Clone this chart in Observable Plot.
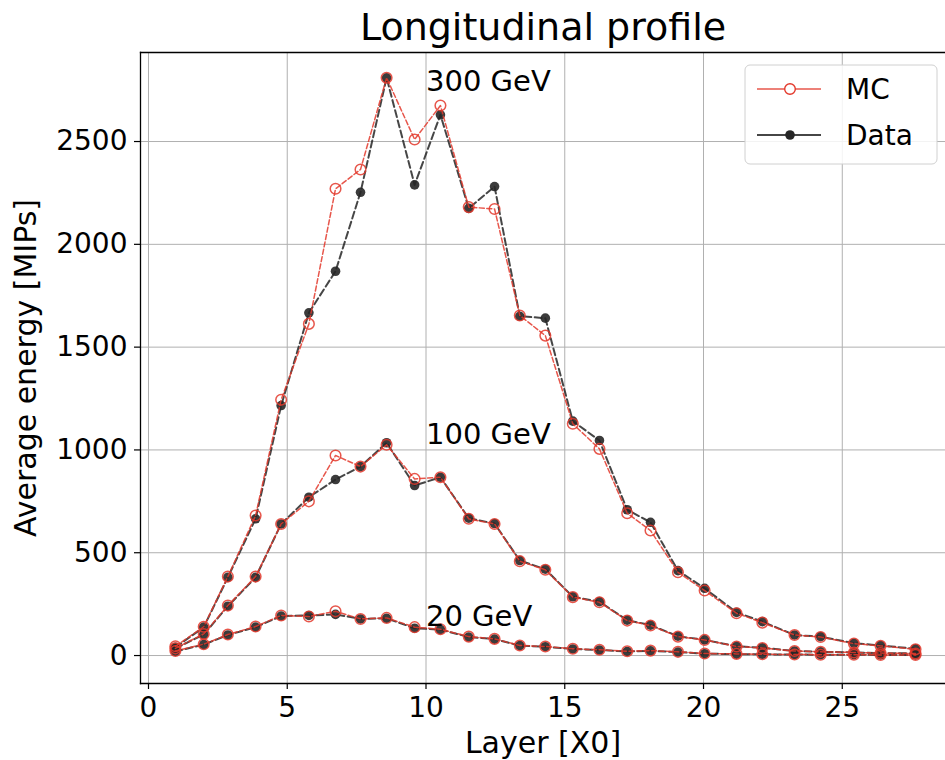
<!DOCTYPE html>
<html><head><meta charset="utf-8">
<script src="https://cdn.jsdelivr.net/npm/d3@7"></script>
<script src="https://cdn.jsdelivr.net/npm/@observablehq/plot@0.6"></script>
<style>body{margin:0;background:#fff} svg{overflow:visible}</style>
</head><body><div id="chart"></div>
<script>
// Layer depth [X0]
const layers = [0.97, 1.99, 2.86, 3.86, 4.78, 5.78, 6.74, 7.64, 8.58, 9.59, 10.52, 11.54, 12.47, 13.38, 14.30, 15.29, 16.25, 17.25, 18.09, 19.08, 20.04, 21.19, 22.12, 23.28, 24.22, 25.42, 26.38, 27.64];
// Average energy [MIPs]
const mc300   = [45, 140, 384, 681, 1244, 1613, 2270, 2364, 2810, 2510, 2675, 2181, 2172, 1654, 1556, 1127, 1005, 692, 608, 405, 316, 206, 160, 100, 90, 58, 47, 30];
const data300 = [40, 138, 380, 665, 1216, 1667, 1869, 2253, 2810, 2289, 2630, 2175, 2281, 1650, 1641, 1140, 1046, 709, 648, 413, 327, 210, 165, 100, 92, 60, 49, 33];
const mc100   = [35, 105, 243, 384, 640, 750, 973, 919, 1025, 859, 867, 665, 640, 459, 417, 284, 259, 170, 146, 92, 76, 44, 37, 22, 18, 15, 12, 10];
const data100 = [35, 102, 240, 380, 640, 770, 856, 919, 1035, 827, 867, 668, 642, 462, 420, 286, 262, 172, 148, 94, 76, 45, 38, 22, 18, 15, 12, 10];
const mc20    = [22, 55, 102, 141, 195, 190, 215, 178, 183, 138, 128, 92, 81, 49, 44, 33, 28, 21, 24, 18, 10, 8, 6, 5, 4, 4, 3, 3];
const data20  = [20, 53, 100, 138, 192, 195, 200, 178, 181, 133, 126, 90, 80, 48, 43, 32, 27, 20, 23, 17, 9, 7, 6, 5, 4, 4, 3, 3];

const energyLabels = ["300 GeV", "100 GeV", "20 GeV"];
const labelLayer = [10, 10, 10];
const labelEnergy = [2748, 1031, 146];

const xTicks = [0, 5, 10, 15, 20, 25];
const yTicks = [0, 500, 1000, 1500, 2000, 2500];
const seriesNames = ["MC", "Data"];

const title = "Longitudinal profile";
const xLabel = "Layer [X0]";
const yLabel = "Average energy [MIPs]";

// build tables
function rows(vals, energy) { return layers.map((l, i) => ({layer: l, energy: vals[i], beam: energy})); }
const mcRows = [...rows(mc300, "300"), ...rows(mc100, "100"), ...rows(mc20, "20")];
const dataRows = [...rows(data300, "300"), ...rows(data100, "100"), ...rows(data20, "20")];
const labels = energyLabels.map((t, i) => ({text: t, x: labelLayer[i], y: labelEnergy[i]}));

const FONT = "'DejaVu Sans', sans-serif";
const RED = "#e3382b";
const DARK = "#262626";
const GRID = "#b0b0b0";

const chart = Plot.plot({
  width: 945, height: 760,
  marginLeft: 140, marginRight: 0, marginTop: 52, marginBottom: 77,
  style: {fontFamily: FONT, background: "white", color: "black", overflow: "visible"},
  x: {domain: [-0.288, 28.72]},
  y: {domain: [-136, 2933]},
  marks: [
    Plot.gridX(xTicks, {stroke: GRID, strokeOpacity: 1, strokeWidth: 1}),
    Plot.gridY(yTicks, {stroke: GRID, strokeOpacity: 1, strokeWidth: 1}),
    Plot.frame({anchor: "left", stroke: "black", strokeWidth: 1.3}),
    Plot.frame({anchor: "top", stroke: "black", strokeWidth: 1.3}),
    Plot.frame({anchor: "bottom", stroke: "black", strokeWidth: 1.3}),
    Plot.axisX(xTicks, {tickSize: 6, tickPadding: 8, fontSize: 28, label: null, tickFormat: d => String(d), strokeWidth: 1.2}),
    Plot.axisY(yTicks, {tickSize: 6, tickPadding: 7, fontSize: 28, label: null, tickFormat: d => String(d), strokeWidth: 1.2}),
    // Data (black, dashed, filled circles)
    Plot.line(dataRows, {x: "layer", y: "energy", z: "beam", stroke: DARK, strokeOpacity: 0.85, strokeWidth: 2, strokeDasharray: "7,3.5"}),
    Plot.dot(dataRows, {x: "layer", y: "energy", r: 4.8, fill: DARK, fillOpacity: 0.9, stroke: "none"}),
    // MC (red, dashed, open circles)
    Plot.line(mcRows, {x: "layer", y: "energy", z: "beam", stroke: RED, strokeOpacity: 0.85, strokeWidth: 1.5, strokeDasharray: "5,2.5"}),
    Plot.dot(mcRows, {x: "layer", y: "energy", r: 5.3, fill: "none", stroke: RED, strokeWidth: 1.5, strokeOpacity: 0.85}),
    // energy annotations
    Plot.text(labels, {x: "x", y: "y", text: "text", textAnchor: "start", lineAnchor: "bottom", fontSize: 29, fill: "black"}),
    // title and axis labels
    Plot.text([title], {frameAnchor: "top", dy: -13, lineAnchor: "bottom", fontSize: 38, fill: "black"}),
    Plot.text([xLabel], {frameAnchor: "bottom", dy: 69, lineAnchor: "bottom", fontSize: 30, fill: "black"}),
    Plot.text([yLabel], {frameAnchor: "left", dx: -114, rotate: -90, textAnchor: "middle", lineAnchor: "middle", fontSize: 30, fill: "black"})
  ]
});

document.getElementById("chart").appendChild(chart);

// legend
const svg = d3.select(chart);
const lg = svg.append("g").attr("font-family", FONT).attr("font-size", 28).attr("text-anchor", "start");
lg.append("rect").attr("x", 745).attr("y", 65).attr("width", 192).attr("height", 99).attr("rx", 5)
  .attr("fill", "white").attr("fill-opacity", 0.85).attr("stroke", "#d0d0d0").attr("stroke-width", 1);
const entries = [
  {name: seriesNames[0], y: 89, color: RED, open: true},
  {name: seriesNames[1], y: 135, color: DARK, open: false}
];
entries.forEach(e => {
  lg.append("line").attr("x1", 757).attr("x2", 821).attr("y1", e.y).attr("y2", e.y)
    .attr("stroke", e.color).attr("stroke-width", e.open ? 1.4 : 2).attr("stroke-opacity", 0.85);
  lg.append("circle").attr("cx", 790).attr("cy", e.y).attr("r", e.open ? 5.3 : 4.8)
    .attr("fill", e.open ? "white" : e.color).attr("stroke", e.open ? e.color : "none").attr("stroke-width", 1.4);
  lg.append("text").attr("x", 846).attr("y", e.y).attr("dy", "0.35em").attr("text-anchor", "start").attr("fill", "black").text(e.name);
});
</script>
</body></html>
